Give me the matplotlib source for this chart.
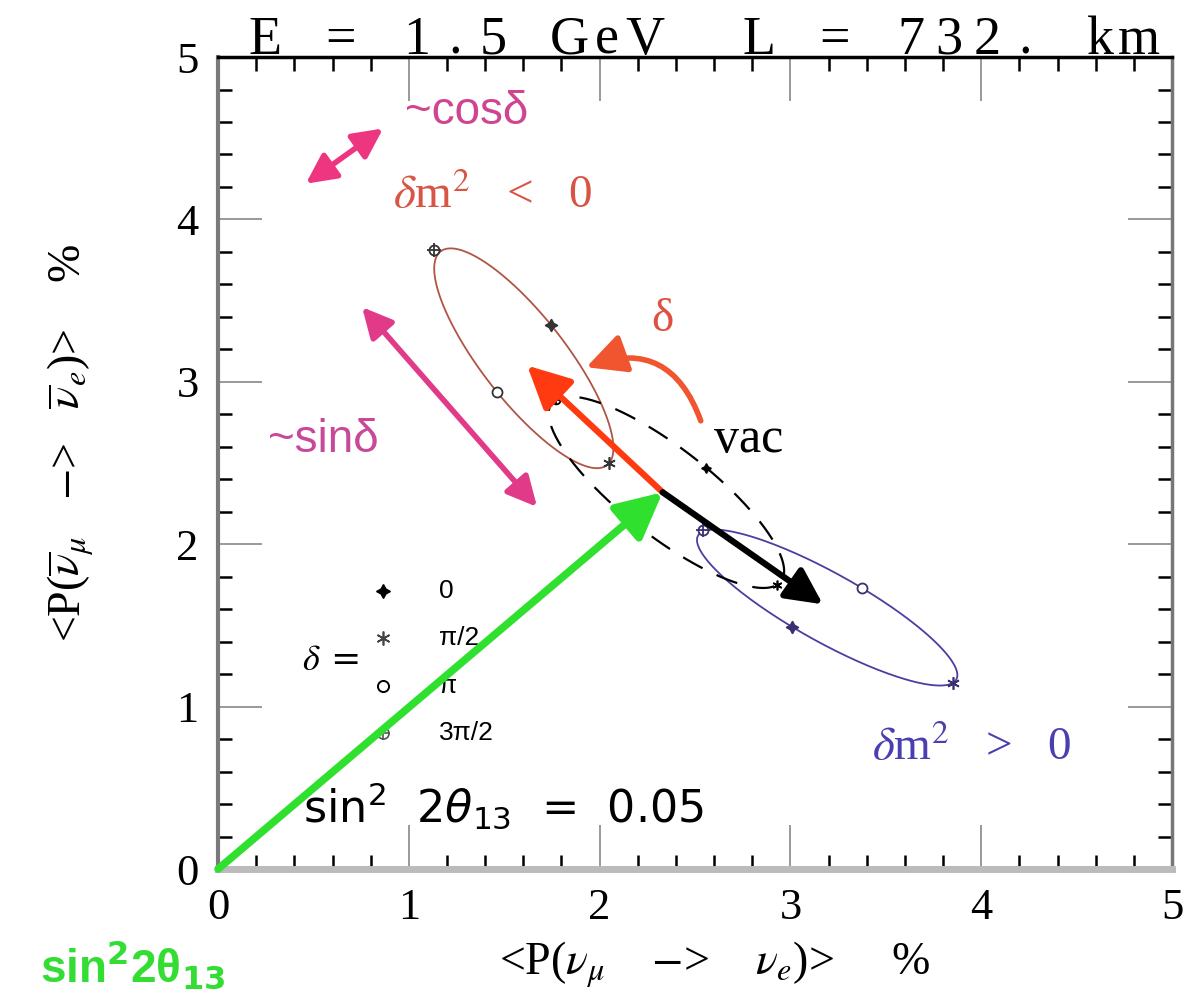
import matplotlib
matplotlib.use("Agg")
import matplotlib.pyplot as plt
import numpy as np
from matplotlib.ticker import MultipleLocator

# oscillation probabilities (%) at delta = 0, pi/2, pi, 3pi/2
delta_labels = ["0", "π/2", "π", "3π/2"]
neg_x = [1.745, 2.05, 1.46, 1.13]     # dm^2 < 0
neg_y = [3.35, 2.50, 2.94, 3.81]
pos_x = [3.01, 3.85, 3.375, 2.54]     # dm^2 > 0
pos_y = [1.49, 1.145, 1.73, 2.09]
vac_x = [2.56, 2.93, 2.14, 1.77]      # vacuum
vac_y = [2.47, 1.75, 2.17, 2.89]

# arrows: sin^2 2theta13 direction, matter effect, delta sweeps
theta_end = (2.33, 2.32)
matter_neg_end = (1.62, 3.10)
matter_pos_end = (3.17, 1.63)
cos_arrow = [(0.46, 4.22), (0.865, 4.56)]
sin_arrow = [(0.755, 3.46), (1.672, 2.23)]
delta_arc = [(2.53, 2.76), (1.93, 3.09)]

title = "E = 1.5 GeV  L = 732. km"

SERIF = ["Liberation Serif", "DejaVu Serif"]
SANS = ["Liberation Sans", "DejaVu Sans"]
W, H = 1187, 990

plt.rcParams["mathtext.fontset"] = "stix"


def ellipse(xs, ys):
    # P(delta) = c + a cos(delta) + b sin(delta)
    xs, ys = np.asarray(xs), np.asarray(ys)
    cx, cy = (xs[0] + xs[2]) / 2, (ys[0] + ys[2]) / 2
    ax_, ay_ = xs[0] - cx, ys[0] - cy
    bx_, by_ = xs[1] - cx, ys[1] - cy
    t = np.linspace(0, 2 * np.pi, 300)
    return cx + ax_ * np.cos(t) + bx_ * np.sin(t), cy + ay_ * np.cos(t) + by_ * np.sin(t)


def draw_markers(ax, xs, ys, color, size=9):
    ax.plot(xs[0], ys[0], marker=(4, 1, 0), color=color, ms=size, ls="none", zorder=5)
    ax.plot(xs[1], ys[1], marker=(6, 2, 0), color=color, ms=size, mew=1.2, ls="none", zorder=5)
    ax.plot(xs[2], ys[2], marker="o", mfc="white", mec=color, ms=size * 0.8, mew=1.3, ls="none", zorder=5)
    ax.plot(xs[3], ys[3], marker="o", mfc="white", mec=color, ms=size * 0.8, mew=1.3, ls="none", zorder=5)
    ax.plot(xs[3], ys[3], marker="+", color=color, ms=size * 1.1, mew=1.3, ls="none", zorder=6)


fig = plt.figure(figsize=(11.87, 9.9), dpi=100)
ax = fig.add_axes([0.1837, 0.1222, 0.8037, 0.8202])
ax.set_xlim(0, 5)
ax.set_ylim(0, 5)

# curves
ex, ey = ellipse(neg_x, neg_y)
ax.plot(ex, ey, color="#b05545", lw=1.3, zorder=3)
draw_markers(ax, neg_x, neg_y, "#333333")

ex, ey = ellipse(pos_x, pos_y)
ax.plot(ex, ey, color="#4a3fa0", lw=1.3, zorder=3)
draw_markers(ax, pos_x, pos_y, "#3a3070")

ex, ey = ellipse(vac_x, vac_y)
ax.plot(ex, ey, color="black", lw=1.6, ls=(0, (10, 7)), zorder=3)
draw_markers(ax, vac_x, vac_y, "black", size=7)

# arrows
ax.annotate("", xy=theta_end, xytext=(0, 0),
            arrowprops=dict(arrowstyle="-|>", color="#2fe02f", lw=5.5,
                            mutation_scale=70, shrinkA=0, shrinkB=0), zorder=7)
ax.annotate("", xy=matter_neg_end, xytext=theta_end,
            arrowprops=dict(arrowstyle="-|>", color="#ff3a10", lw=4.5,
                            mutation_scale=65, shrinkA=0, shrinkB=0), zorder=7)
ax.annotate("", xy=matter_pos_end, xytext=theta_end,
            arrowprops=dict(arrowstyle="-|>", color="black", lw=4.5,
                            mutation_scale=55, shrinkA=0, shrinkB=0), zorder=7)
ax.annotate("", xy=delta_arc[1], xytext=delta_arc[0],
            arrowprops=dict(arrowstyle="-|>", color="#f05530", lw=4,
                            mutation_scale=60, shrinkA=0, shrinkB=0,
                            connectionstyle="arc3,rad=0.5"), zorder=7)
ax.annotate("", xy=cos_arrow[1], xytext=cos_arrow[0],
            arrowprops=dict(arrowstyle="<|-|>", color="#ee3580", lw=4,
                            mutation_scale=45, shrinkA=0, shrinkB=0), zorder=7)
ax.annotate("", xy=sin_arrow[1], xytext=sin_arrow[0],
            arrowprops=dict(arrowstyle="<|-|>", color="#e03a88", lw=4,
                            mutation_scale=45, shrinkA=0, shrinkB=0), zorder=7)

# labels inside the plot
ax.text(0.98, 4.66, "~cosδ", color="#d0458f", fontsize=33, family=SANS, va="center")
ax.text(0.26, 2.64, "~sinδ", color="#c8489a", fontsize=33, family=SANS, va="center")
ax.text(0.917, 4.07, r"$\delta$m$^2$   <   0", color="#d85545", fontsize=34,
        family=SERIF, va="baseline")
ax.text(3.43, 0.671, r"$\delta$m$^2$   >   0", color="#4a3fb0", fontsize=34,
        family=SERIF, va="baseline")
ax.text(2.33, 3.38, "δ", color="#e05040", fontsize=34, family=SERIF,
        ha="center", va="center")
ax.text(2.6, 2.57, "vac", color="black", fontsize=36, family=SERIF, va="baseline")
ax.text(0.445, 0.283, r"sin$^2$  2$\theta_{13}$  =  0.05", color="black", fontsize=32,
        family="DejaVu Sans", math_fontfamily="dejavusans", va="baseline")

# delta legend
ax.text(0.44, 1.29, r"$\delta$ =", fontsize=26, va="center")
legend_x, legend_label_x = 0.865, 1.16
for i, lab in enumerate(delta_labels):
    ly = 1.71 - 0.29 * i
    if i == 0:
        ax.plot(legend_x, ly, marker=(4, 1, 0), color="black", ms=10, ls="none")
    elif i == 1:
        ax.plot(legend_x, ly, marker=(6, 2, 0), color="#444444", ms=10, mew=1.2, ls="none")
    elif i == 2:
        ax.plot(legend_x, ly, marker="o", mfc="white", mec="black", ms=8, mew=1.4, ls="none")
    else:
        ax.plot(legend_x, ly, marker="o", mfc="white", mec="#555555", ms=8, mew=1.2, ls="none")
        ax.plot(legend_x, ly, marker="+", color="#555555", ms=10, mew=1.2, ls="none")
    ax.text(legend_label_x, ly, lab, fontsize=19, family=SANS, va="center")

# axes styling
ax.xaxis.set_major_locator(MultipleLocator(1))
ax.yaxis.set_major_locator(MultipleLocator(1))
ax.xaxis.set_minor_locator(MultipleLocator(0.2))
ax.yaxis.set_minor_locator(MultipleLocator(0.2))
ax.tick_params(which="both", direction="in", top=True, right=True)
ax.tick_params(which="major", length=32, width=1.2, color="#888888", pad=14,
               labelsize=32)
ax.tick_params(which="minor", length=10, width=1.8, color="black")
for lab in ax.get_xticklabels() + ax.get_yticklabels():
    lab.set_family(SERIF)
ax.spines["top"].set_linewidth(2.5)
ax.spines["top"].set_color("black")
ax.spines["left"].set_linewidth(3)
ax.spines["left"].set_color("#7a7a7a")
ax.spines["right"].set_linewidth(2.5)
ax.spines["right"].set_color("#777777")
ax.spines["bottom"].set_linewidth(5)
ax.spines["bottom"].set_color("#bbbbbb")

# title, spread on an even character grid like the original
slot, x0 = 38, 265
for i, ch in enumerate(title):
    if ch != " ":
        fig.text((x0 + i * slot) / W, 1 - 54 / H, ch, ha="center", va="baseline",
                 fontsize=39, family=SERIF)

ax.text(0.52, -0.118, r"<P($\nu_\mu$    $-$>    $\nu_e$)>     %", transform=ax.transAxes,
        ha="center", va="center", fontsize=33, family=SERIF)
ax.text(-0.155, 0.525, r"<P($\overline{\nu}_\mu$   $-$>   $\overline{\nu}_e$)>    %",
        transform=ax.transAxes, ha="center", va="center", rotation=90,
        fontsize=33, family=SERIF)
ax.text(-0.187, -0.118, r"sin$^{\mathbf{2}}$2θ$_{\mathbf{13}}$", transform=ax.transAxes,
        ha="left", va="center", fontsize=33, fontweight="bold", color="#33dd33",
        family=SANS, math_fontfamily="dejavusans")

fig.savefig("out.png", dpi=100)
